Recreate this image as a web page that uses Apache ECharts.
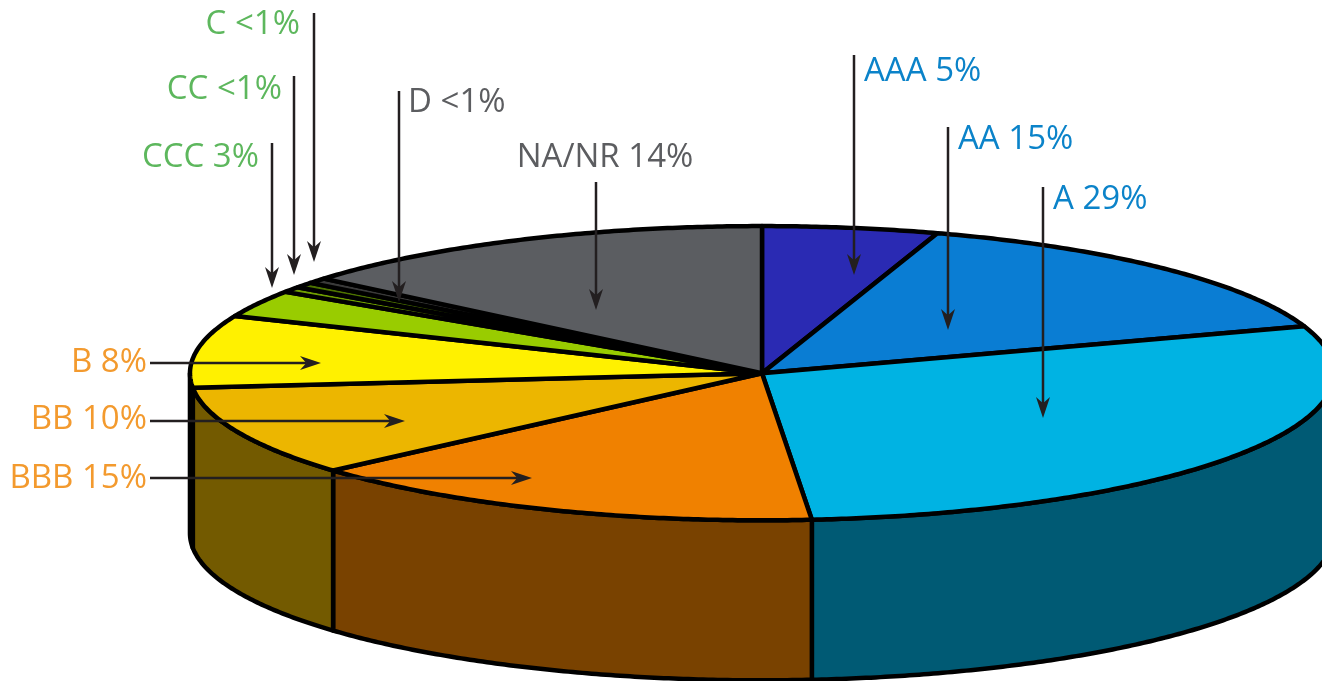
<!DOCTYPE html>
<html>
<head>
<meta charset="utf-8">
<script src="https://cdn.jsdelivr.net/npm/echarts@6/dist/echarts.min.js"></script>
<style>
  html, body { margin: 0; padding: 0; background: #fff; }
  #chart { width: 1322px; height: 681px; }
</style>
</head>
<body>
<div id="chart"></div>
<script>
// rating buckets, clockwise from 12 o'clock
const categories = ['AAA', 'AA', 'A', 'BBB', 'BB', 'B', 'CCC', 'CC', 'C', 'D', 'NA/NR'];
const shares = [5, 15, 29, 15, 10, 8, 3, 0.6, 0.6, 0.6, 14];
const labelTexts = ['AAA 5%', 'AA 15%', 'A 29%', 'BBB 15%', 'BB 10%', 'B 8%', 'CCC 3%', 'CC <1%', 'C <1%', 'D <1%', 'NA/NR 14%'];

// styling
const topColors = ['#2a2ab3', '#0a7dd3', '#00b3e3', '#f08100', '#ecb600', '#fff100', '#99cc00', '#6f9e00', '#4d7300', '#3a3a3a', '#5b5d61'];
const sideColors = ['#16165e', '#05426f', '#005a74', '#794200', '#735a00', '#7a7400', '#4d6600', '#384f00', '#263a00', '#1d1d1d', '#2e2f31'];
const BLUE = '#0b83c9', ORANGE = '#f39a2e', GREEN = '#5db75d', GREY = '#5c5d60';
const labelColors = [BLUE, BLUE, BLUE, ORANGE, ORANGE, ORANGE, GREEN, GREEN, GREEN, GREY, GREY];

// annotation layout: text anchor + arrow (from -> tip)
const labelLayout = {
  'AAA':   { tx: 864, ty: 72,  align: 'left',   from: [854, 55],  to: [854, 275] },
  'AA':    { tx: 958, ty: 140, align: 'left',   from: [948, 127], to: [948, 330] },
  'A':     { tx: 1053, ty: 200, align: 'left',  from: [1043, 187], to: [1043, 418] },
  'BBB':   { tx: 147, ty: 479, align: 'right',  from: [150, 478], to: [532, 478] },
  'BB':    { tx: 147, ty: 420, align: 'right',  from: [150, 421], to: [405, 421] },
  'B':     { tx: 147, ty: 363, align: 'right',  from: [150, 363], to: [321, 363] },
  'CCC':   { tx: 259, ty: 158, align: 'right',  from: [272, 143], to: [272, 288] },
  'CC':    { tx: 282, ty: 90,  align: 'right',  from: [294, 76],  to: [294, 275] },
  'C':     { tx: 300, ty: 25,  align: 'right',  from: [314, 13],  to: [314, 262] },
  'D':     { tx: 408, ty: 103, align: 'left',   from: [399, 91],  to: [399, 302] },
  'NA/NR': { tx: 605, ty: 158, align: 'center', from: [596, 182], to: [596, 310] }
};

const total = shares.reduce((a, b) => a + b, 0);
let acc = 0;
const pieData = shares.map((v, i) => {
  const item = { name: categories[i], value: [v, acc] };
  acc += v;
  return item;
});

function renderSlice(params, api) {
  const W = api.getWidth(), H = api.getHeight();
  const cx = W * 0.5764, cy = H * 0.548;
  const rx = W * 0.4327, ry = H * 0.216, depth = H * 0.235;
  const share = api.value(0), before = api.value(1);
  const t0 = 90 - before / total * 360;
  const t1 = t0 - share / total * 360;
  const pt = (t, dy) => {
    const r = t * Math.PI / 180;
    return [cx + rx * Math.cos(r), cy - ry * Math.sin(r) + dy];
  };
  const arc = (a, b, dy) => {
    const pts = [];
    const n = Math.max(2, Math.ceil(Math.abs(b - a) / 0.5));
    for (let k = 0; k <= n; k++) pts.push(pt(a + (b - a) * k / n, dy));
    return pts;
  };
  const i = params.dataIndex;
  const children = [];
  const lo = Math.max(t1, -180), hi = Math.min(t0, 0);
  if (hi > lo) {
    const side = arc(lo, hi, 0).concat(arc(hi, lo, depth));
    children.push({
      type: 'polygon', z2: 1,
      shape: { points: side },
      style: { fill: sideColors[i], stroke: '#000', lineWidth: 4.5, lineJoin: 'round' }
    });
  }
  const top = [[cx, cy]].concat(arc(t0, t1, 0));
  children.push({
    type: 'polygon', z2: 2,
    shape: { points: top },
    style: { fill: topColors[i], stroke: '#000', lineWidth: 4.5, lineJoin: 'round' }
  });
  return { type: 'group', children };
}

function arrowHead(from, to) {
  const dx = to[0] - from[0], dy = to[1] - from[1];
  const len = Math.hypot(dx, dy);
  const ux = dx / len, uy = dy / len, nx = -uy, ny = ux;
  const L = 21, Wd = 7;
  return [
    to,
    [to[0] - ux * L + nx * Wd, to[1] - uy * L + ny * Wd],
    [to[0] - ux * L * 0.7, to[1] - uy * L * 0.7],
    [to[0] - ux * L - nx * Wd, to[1] - uy * L - ny * Wd]
  ];
}

const graphics = [];
categories.forEach((c, i) => {
  const lay = labelLayout[c];
  graphics.push({
    type: 'text', z: 100, x: lay.tx, y: lay.ty,
    style: {
      text: labelTexts[i], fill: labelColors[i],
      font: '33px "Open Sans", sans-serif',
      align: lay.align, verticalAlign: 'middle'
    }
  });
  const tail = arrowHead(lay.from, lay.to)[2];
  graphics.push({
    type: 'line', z: 100,
    shape: { x1: lay.from[0], y1: lay.from[1], x2: tail[0], y2: tail[1] },
    style: { stroke: '#231f20', lineWidth: 2.5 }
  });
  graphics.push({
    type: 'polygon', z: 100,
    shape: { points: arrowHead(lay.from, lay.to) },
    style: { fill: '#231f20' }
  });
});

const chart = echarts.init(document.getElementById('chart'));
chart.setOption({
  backgroundColor: '#fff',
  animation: false,
  series: [{
    type: 'custom',
    coordinateSystem: 'none',
    renderItem: renderSlice,
    data: pieData
  }],
  graphic: graphics
});
</script>
</body>
</html>
